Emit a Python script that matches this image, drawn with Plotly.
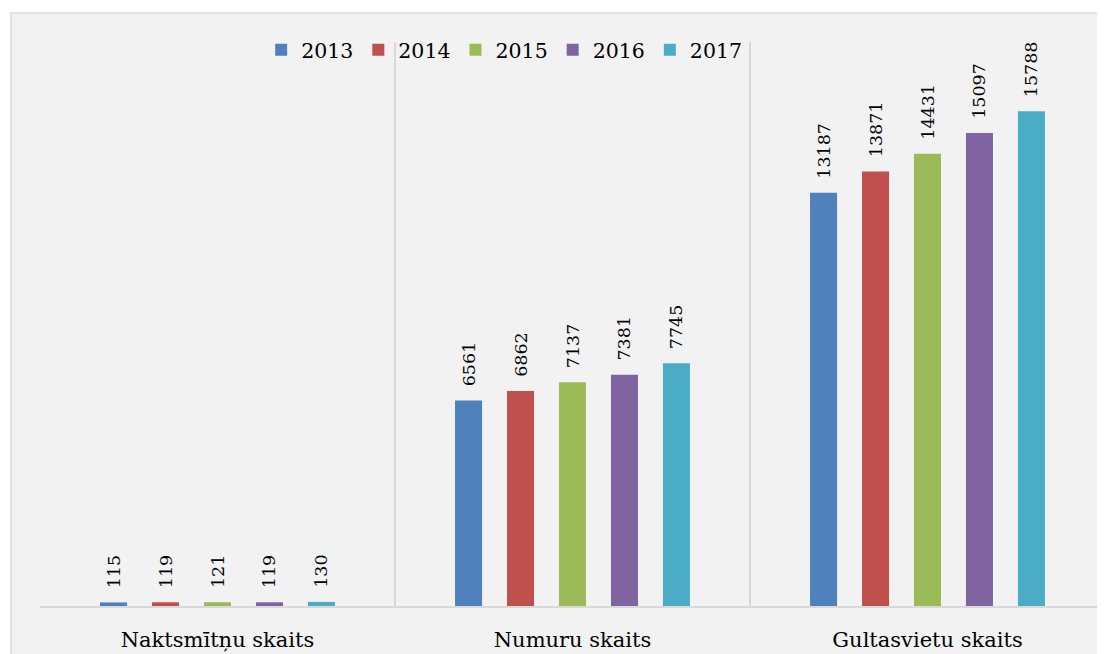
import plotly.graph_objects as go

categories = ["Naktsmītņu skaits", "Numuru skaits", "Gultasvietu skaits"]
years = ["2013", "2014", "2015", "2016", "2017"]
values = {
    "2013": [115, 6561, 13187],
    "2014": [119, 6862, 13871],
    "2015": [121, 7137, 14431],
    "2016": [119, 7381, 15097],
    "2017": [130, 7745, 15788],
}
colors = ["#4F81BD", "#C0504D", "#9BBB59", "#8064A2", "#4BACC6"]

FONT = "DejaVu Serif"

fig = go.Figure()
for yr, col in zip(years, colors):
    vals = values[yr]
    fig.add_trace(go.Bar(
        name=yr, x=categories, y=vals,
        marker=dict(color=col, line=dict(width=0)),
        text=["\u00a0\u00a0" + str(v) for v in vals],
        textposition="outside", textangle=-90,
        textfont=dict(family=FONT, size=17.5, color="#000000"),
        constraintext="none", cliponaxis=False,
    ))

fig.add_shape(type="rect", xref="paper", yref="paper",
              x0=-0.0272, x1=1.05, y0=-0.2, y1=1.0514,
              fillcolor="#F2F2F2", line=dict(color="#D9D9D9", width=1.5),
              layer="below")

fig.update_layout(
    width=1097, height=646,
    margin=dict(l=32, r=0, t=34, b=48),
    paper_bgcolor="#FFFFFF", plot_bgcolor="rgba(0,0,0,0)",
    barmode="group", bargap=0.268, bargroupgap=0.48,
    font=dict(family=FONT, color="#000000"),
    showlegend=True,
    legend=dict(orientation="h", x=0.664, xanchor="right", y=0.986, yanchor="middle",
                font=dict(family=FONT, size=20.5), bgcolor="rgba(0,0,0,0)",
                itemwidth=30, traceorder="normal"),
    xaxis=dict(showgrid=True, gridcolor="#D9D9D9", gridwidth=1.5, tickson="boundaries",
               showline=True, linecolor="#D9D9D9", linewidth=1.5,
               ticks="", ticklabelstandoff=14, automargin=False,
               tickfont=dict(family=FONT, size=21, color="#000000")),
    yaxis=dict(range=[0, 18000], showgrid=False, zeroline=False, showticklabels=False,
               showline=False, automargin=False),
)

fig.write_html("out.html")
